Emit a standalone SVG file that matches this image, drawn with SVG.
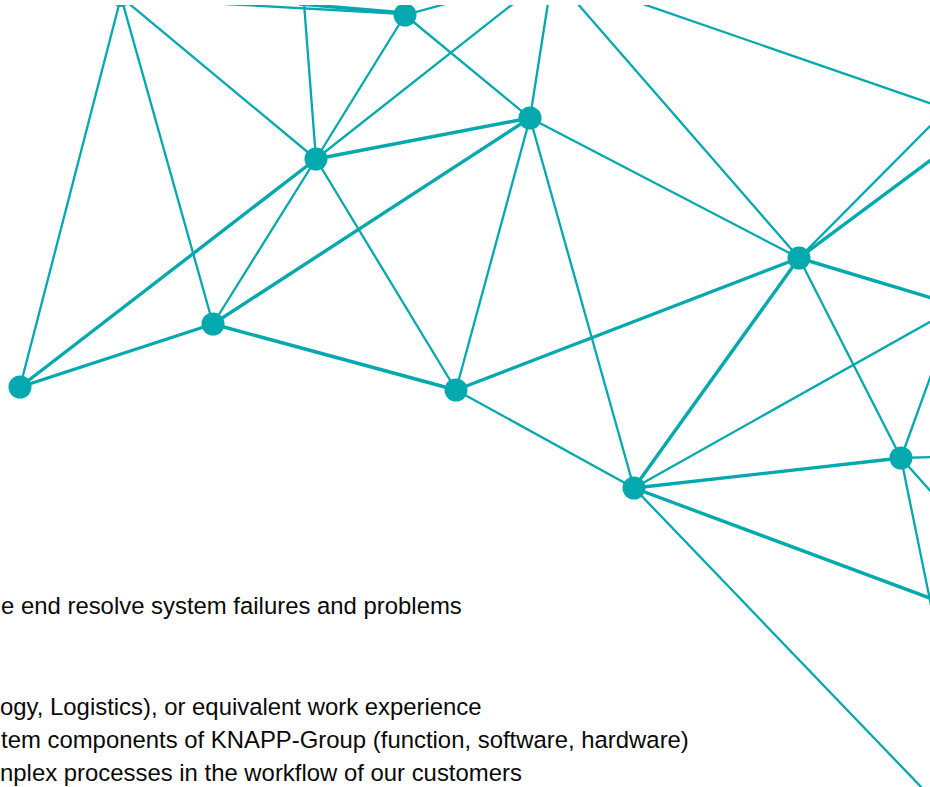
<svg xmlns="http://www.w3.org/2000/svg" width="930" height="787" viewBox="0 0 930 787">
<style>
.e{stroke:#03A9AF;stroke-width:2.3;stroke-linecap:round;fill:none}
.t{stroke-width:3.4}
.n{fill:#03A9AF}
.txt{font-family:"Liberation Sans",Arial,sans-serif;font-size:23.9px;fill:#0a0a0a}
</style>
<defs>
<clipPath id="clip"><rect x="0" y="5" width="930" height="782"/></clipPath>
</defs>
<rect width="930" height="787" fill="#fff"/>
<g clip-path="url(#clip)">
<g id="connectors">
<line class="e" x1="121" y1="-3" x2="20" y2="387"/>
<line class="e" x1="121" y1="-3" x2="213" y2="324"/>
<line class="e" x1="121" y1="-3" x2="316" y2="159"/>
<line class="e" x1="225" y1="4" x2="405" y2="14"/>
<line class="e t" x1="300" y1="4" x2="405" y2="13"/>
<line class="e" x1="304" y1="3" x2="316" y2="159"/>
<line class="e" x1="405" y1="15" x2="316" y2="159"/>
<line class="e" x1="405" y1="15" x2="530" y2="118"/>
<line class="e" x1="405" y1="15" x2="449" y2="3"/>
<line class="e t" x1="316" y1="159" x2="530" y2="118"/>
<line class="e" x1="316" y1="159" x2="514" y2="3"/>
<line class="e t" x1="213" y1="324" x2="530" y2="118"/>
<line class="e t" x1="20" y1="387" x2="316" y2="159"/>
<line class="e t" x1="20" y1="387" x2="213" y2="324"/>
<line class="e" x1="213" y1="324" x2="316" y2="159"/>
<line class="e t" x1="213" y1="324" x2="456" y2="390"/>
<line class="e" x1="316" y1="159" x2="456" y2="390"/>
<line class="e" x1="530" y1="118" x2="548" y2="3"/>
<line class="e" x1="530" y1="118" x2="799" y2="258"/>
<line class="e" x1="530" y1="118" x2="456" y2="390"/>
<line class="e" x1="530" y1="118" x2="634" y2="488"/>
<line class="e t" x1="456" y1="390" x2="799" y2="258"/>
<line class="e" x1="456" y1="390" x2="634" y2="488"/>
<line class="e" x1="577" y1="3" x2="799" y2="258"/>
<line class="e" x1="640" y1="3" x2="935" y2="105"/>
<line class="e" x1="799" y1="258" x2="935" y2="121"/>
<line class="e t" x1="799" y1="258" x2="935" y2="157"/>
<line class="e t" x1="799" y1="258" x2="935" y2="299"/>
<line class="e t" x1="799" y1="258" x2="634" y2="488"/>
<line class="e" x1="799" y1="258" x2="901" y2="458"/>
<line class="e" x1="634" y1="488" x2="935" y2="319"/>
<line class="e t" x1="634" y1="488" x2="901" y2="458"/>
<line class="e t" x1="634" y1="488" x2="935" y2="600"/>
<line class="e" x1="634" y1="488" x2="924" y2="790"/>
<line class="e" x1="901" y1="458" x2="935" y2="364"/>
<line class="e" x1="901" y1="458" x2="935" y2="457"/>
<line class="e" x1="901" y1="458" x2="935" y2="496"/>
<line class="e" x1="901" y1="458" x2="932" y2="610"/>
</g>
<g id="nA"><circle class="n" cx="121" cy="-3" r="10"/></g>
<g id="nB"><circle class="n" cx="405" cy="15" r="11.5"/></g>
<g id="nC"><circle class="n" cx="316" cy="159" r="11.5"/></g>
<g id="nD"><circle class="n" cx="530" cy="118" r="11.5"/></g>
<g id="nE"><circle class="n" cx="213" cy="324" r="11.5"/></g>
<g id="nF"><circle class="n" cx="20" cy="387" r="11.5"/></g>
<g id="nG"><circle class="n" cx="456" cy="390" r="11.5"/></g>
<g id="nH"><circle class="n" cx="799" cy="258" r="11.5"/></g>
<g id="nI"><circle class="n" cx="634" cy="488" r="11.5"/></g>
<g id="nJ"><circle class="n" cx="901" cy="458" r="11.5"/></g>
</g>
<g id="text">
<text class="txt" x="1" y="614">e end resolve system failures and problems</text>
<text class="txt" x="0" y="715">ogy, Logistics), or equivalent work experience</text>
<text class="txt" x="1" y="748">tem components of KNAPP-Group (function, software, hardware)</text>
<text class="txt" x="0" y="781">nplex processes in the workflow of our customers</text>
</g>
</svg>
